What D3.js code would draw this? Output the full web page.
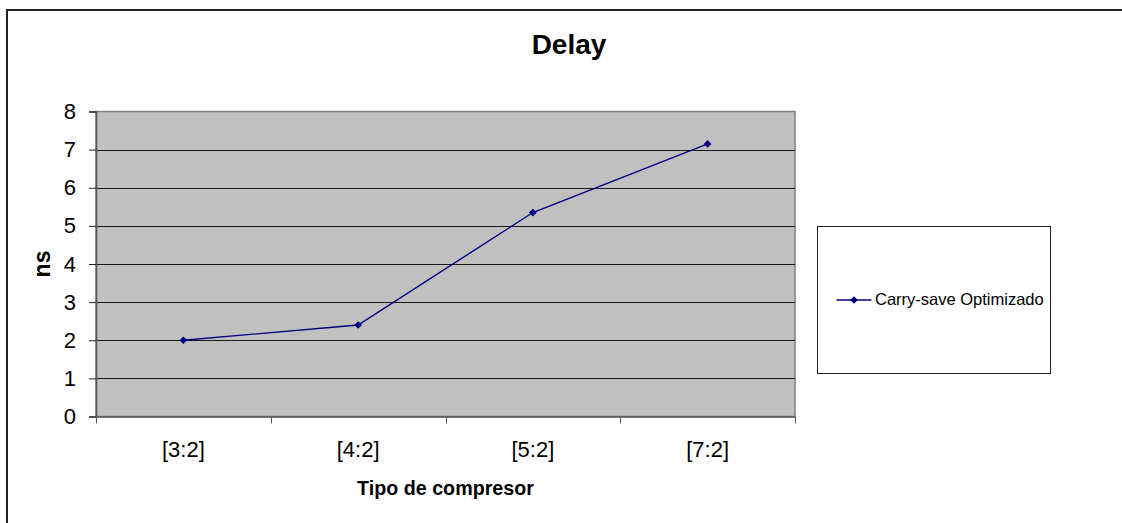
<!DOCTYPE html>
<html>
<head>
<meta charset="utf-8">
<script src="https://cdn.jsdelivr.net/npm/d3@7"></script>
<style>
  html, body { margin: 0; padding: 0; background: #fff; }
  svg { display: block; font-family: "Liberation Sans", Arial, sans-serif; }
</style>
</head>
<body>
<svg id="chart" width="1122" height="523"></svg>
<script>
// Delay per compressor type (ns)
const categories = ["[3:2]", "[4:2]", "[5:2]", "[7:2]"];
const delayValues = [2.0, 2.4, 5.35, 7.15];
const yTicks = [0, 1, 2, 3, 4, 5, 6, 7, 8];
const seriesName = "Carry-save Optimizado";
const chartTitle = "Delay";
const xTitle = "Tipo de compresor";
const yTitle = "ns";

const svg = d3.select("#chart");
const plot = { left: 96, top: 111.5, right: 795, bottom: 416.5 };
const lineColor = "#000080";
const fontFamily = "Liberation Sans, Arial, sans-serif";

// outer chart frame (runs off the right and bottom edges)
svg.append("rect")
  .attr("x", 7).attr("y", 10)
  .attr("width", 1130).attr("height", 530)
  .attr("fill", "#fff")
  .attr("stroke", "#222").attr("stroke-width", 2);

const x = d3.scaleBand().domain(categories).range([plot.left, plot.right]);
const y = d3.scaleLinear().domain([0, 8]).range([plot.bottom, plot.top]);

// plot area
svg.append("rect")
  .attr("x", plot.left).attr("y", plot.top)
  .attr("width", plot.right - plot.left).attr("height", plot.bottom - plot.top)
  .attr("fill", "#c0c0c0")
  .attr("stroke", "#808080").attr("stroke-width", 1.5);

// horizontal gridlines
svg.append("g").selectAll("line")
  .data(yTicks.filter(d => d > 0 && d < 8))
  .join("line")
  .attr("x1", plot.left).attr("x2", plot.right)
  .attr("y1", d => Math.round(y(d)) + 0.5).attr("y2", d => Math.round(y(d)) + 0.5)
  .attr("stroke", "#1a1a1a").attr("stroke-width", 1);

// y axis
const yAxis = svg.append("g")
  .attr("transform", `translate(${plot.left},0)`)
  .call(d3.axisLeft(y).tickValues(yTicks).tickSize(7).tickPadding(13).tickFormat(d3.format("d")));
yAxis.select(".domain").attr("stroke", "#555").attr("stroke-width", 1.5);
yAxis.selectAll(".tick line").attr("stroke", "#222");
yAxis.selectAll(".tick text")
  .attr("font-size", 22).attr("fill", "#000")
  .attr("font-family", fontFamily);

// x axis with ticks between categories
const xAxis = svg.append("g")
  .attr("transform", `translate(0,${plot.bottom})`)
  .call(d3.axisBottom(x).tickSize(0).tickPadding(25));
xAxis.select(".domain").attr("stroke", "#555").attr("stroke-width", 1.5);
xAxis.selectAll(".tick text")
  .attr("font-size", 22).attr("fill", "#000")
  .attr("font-family", fontFamily);
const boundaries = categories.map(c => x(c)).concat([x(categories[categories.length - 1]) + x.bandwidth()]);
xAxis.append("g").selectAll("line")
  .data(boundaries)
  .join("line")
  .attr("x1", d => Math.round(d) + 0.5).attr("x2", d => Math.round(d) + 0.5)
  .attr("y1", 0).attr("y2", 7)
  .attr("stroke", "#555").attr("stroke-width", 1);

// series line
const line = d3.line()
  .x((d, i) => x(categories[i]) + x.bandwidth() / 2)
  .y(d => y(d));
svg.append("path")
  .datum(delayValues)
  .attr("d", line)
  .attr("fill", "none")
  .attr("stroke", lineColor).attr("stroke-width", 1.4);

// diamond markers
const diamond = d3.symbol().type(d3.symbolDiamond2).size(38);
svg.append("g").selectAll("path")
  .data(delayValues)
  .join("path")
  .attr("d", diamond)
  .attr("transform", (d, i) => `translate(${x(categories[i]) + x.bandwidth() / 2},${y(d)})`)
  .attr("fill", lineColor);

// titles
svg.append("text")
  .attr("x", 569).attr("y", 53.5)
  .attr("text-anchor", "middle")
  .attr("font-size", 28).attr("font-weight", "bold")
  .text(chartTitle);

svg.append("text")
  .attr("x", (plot.left + plot.right) / 2).attr("y", 495)
  .attr("text-anchor", "middle")
  .attr("font-size", 19.7).attr("font-weight", "bold")
  .text(xTitle);

svg.append("text")
  .attr("transform", `translate(50,${(plot.top + plot.bottom) / 2}) rotate(-90)`)
  .attr("text-anchor", "middle")
  .attr("font-size", 23).attr("font-weight", "bold")
  .text(yTitle);

// legend
const legend = svg.append("g").attr("transform", "translate(817.5,226.5)");
legend.append("rect")
  .attr("width", 233).attr("height", 147)
  .attr("fill", "#fff").attr("stroke", "#222").attr("stroke-width", 1);
legend.append("line")
  .attr("x1", 19).attr("x2", 54).attr("y1", 73.5).attr("y2", 73.5)
  .attr("stroke", lineColor).attr("stroke-width", 1.4);
legend.append("path")
  .attr("d", diamond)
  .attr("transform", "translate(36.5,73.5)")
  .attr("fill", lineColor);
legend.append("text")
  .attr("x", 57.5).attr("y", 78)
  .attr("font-size", 16.5)
  .text(seriesName);
</script>
</body>
</html>
